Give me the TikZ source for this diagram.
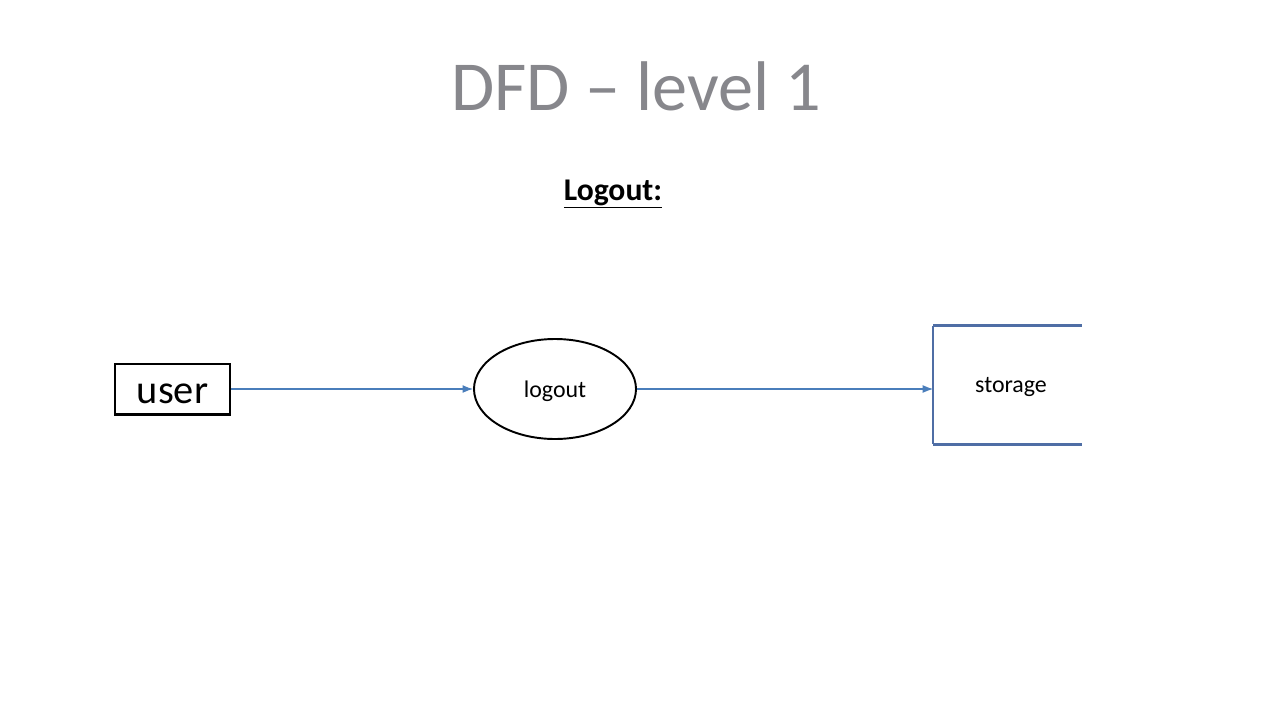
\documentclass[tikz,border=0pt]{standalone}
\usepackage{fontspec}
\setmainfont{Carlito}
\usetikzlibrary{shapes.geometric,arrows.meta}
\definecolor{titlegray}{RGB}{135,135,140}
\definecolor{flowblue}{RGB}{74,126,187}
\definecolor{storeblue}{RGB}{79,110,165}
\tikzset{
  px/.style={x=0.02cm,y=-0.02cm},
  entity/.style={draw=black,line width=1.7pt,minimum width=115*0.02cm,minimum height=50*0.02cm,inner sep=0pt,text height=0.56cm,text depth=0pt,font=\fontsize{23}{26}\selectfont},
  process/.style={draw=black,ellipse,line width=1.1pt,minimum width=162*0.02cm,minimum height=100*0.02cm,inner sep=0pt,text height=0.32cm,text depth=0pt,font=\fontsize{13.6}{16}\selectfont},
  store/.style={rectangle,minimum width=148*0.02cm,minimum height=118*0.02cm,inner sep=0pt},
  storelabel/.style={anchor=base,inner sep=0pt,font=\fontsize{13.6}{16}\selectfont},
  storeline/.style={draw=storeblue,line width=1.6pt},
  storeside/.style={draw=storeblue,line width=0.8pt},
  flow/.style={draw=flowblue,line width=0.6pt,-{Latex[length=6pt,width=4.5pt]}},
}
\begin{document}
\begin{tikzpicture}[px]
\useasboundingbox (0,0) rectangle (1280,720);
\node[anchor=base,text=titlegray,font=\fontsize{40}{46}\selectfont,inner sep=0pt] (title) at (636,110) {DFD – level 1};
\node[anchor=base,font=\bfseries\fontsize{18}{22}\selectfont,inner sep=0pt] (sub) at (613,200) {\underline{Logout:}};
\node[entity] (user) at (172.5,389) {user};
\node[process] (logout) at (555,389) {logout};
\node[store] (storage) at (1007.5,385) {};
\node[storelabel] (storagetext) at (1011,392) {storage};
\draw[storeline] (storage.north west) -- (storage.north east);
\draw[storeline] (storage.south west) -- (storage.south east);
\draw[storeside] (storage.north west) -- (storage.south west);
\draw[flow] (user.east) -- (logout.west);
\draw[flow] (logout.east) -- (logout.east -| storage.west);
\end{tikzpicture}
\end{document}
